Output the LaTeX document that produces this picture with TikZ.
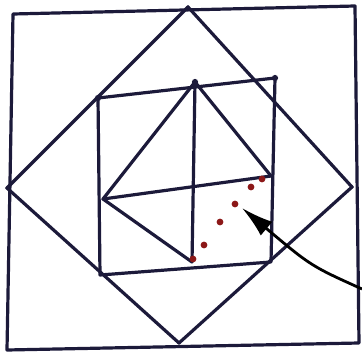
\documentclass[tikz,border=0pt]{standalone}
\usepackage{tikz}
\usetikzlibrary{arrows.meta, calc}
\definecolor{ink}{RGB}{28,26,58}
\definecolor{dotred}{RGB}{140,24,24}

\begin{document}
\begin{tikzpicture}[x=1pt, y=-1pt,
    edgestyle/.style={ink, line width=3.2pt, line join=round, line cap=round},
    pointerstyle/.style={-{Latex[length=32pt, width=18pt]}, black, line width=2.8pt},
    vertex/.style={circle, fill=ink, inner sep=2.2pt},
    reddot/.style={circle, fill=dotred, inner sep=2.4pt}]
  \useasboundingbox (0,0) rectangle (362,353);
  % outer square
  \coordinate (A1) at (13,14);
  \coordinate (A2) at (355,6);
  \coordinate (A3) at (359,343);
  \coordinate (A4) at (7,350);
  \draw[edgestyle] (A1) -- (A2) -- (A3) -- (A4) -- cycle;
  % diamond
  \coordinate (D1) at (188,7);
  \coordinate (D2) at (352,187);
  \coordinate (D3) at (179,343);
  \coordinate (D4) at (7,188);
  \draw[edgestyle] (D1) -- (D2) -- (D3) -- (D4) -- cycle;
  % inner square
  \coordinate (S1) at (98,98);
  \coordinate (S2) at (275,78);
  \coordinate (S3) at (271,262);
  \coordinate (S4) at (100,275);
  \draw[edgestyle] (S1) -- (S2) -- (S3) -- (S4) -- cycle;
  % midpoints of the inner square
  \coordinate (M1) at (195,82);
  \coordinate (M2) at (271,176);
  \coordinate (M3) at (192,262);
  \coordinate (M4) at (103,199);
  \draw[edgestyle] (M1) -- (M3);
  \draw[edgestyle] (M4) -- (M2);
  \draw[edgestyle] (M2) -- (M1) -- (M4) -- (M3);
  % corner dots
  \node[vertex] (s1) at (S1) {}; \node[vertex] (m1) at (M1) {}; \node[vertex] (s2) at (S2) {};
  \foreach \p in {D1,D2,D3,D4} \node[vertex, inner sep=1.4pt] at (\p) {};
  % dotted side
  \node[reddot] (r1) at (262,179) {};
  \node[reddot] (r2) at (251,187) {};
  \node[reddot] (r3) at (235,204) {};
  \node[reddot] (r4) at (220,222) {};
  \node[reddot] (r5) at (204,245) {};
  \node[reddot] (r6) at (193,259) {};
  % pointer
  \coordinate (P0) at (362,289);
  \coordinate (P1) at (242,208);
  \draw[pointerstyle] (P0) .. controls (311,266) .. (P1);
\end{tikzpicture}
\end{document}
